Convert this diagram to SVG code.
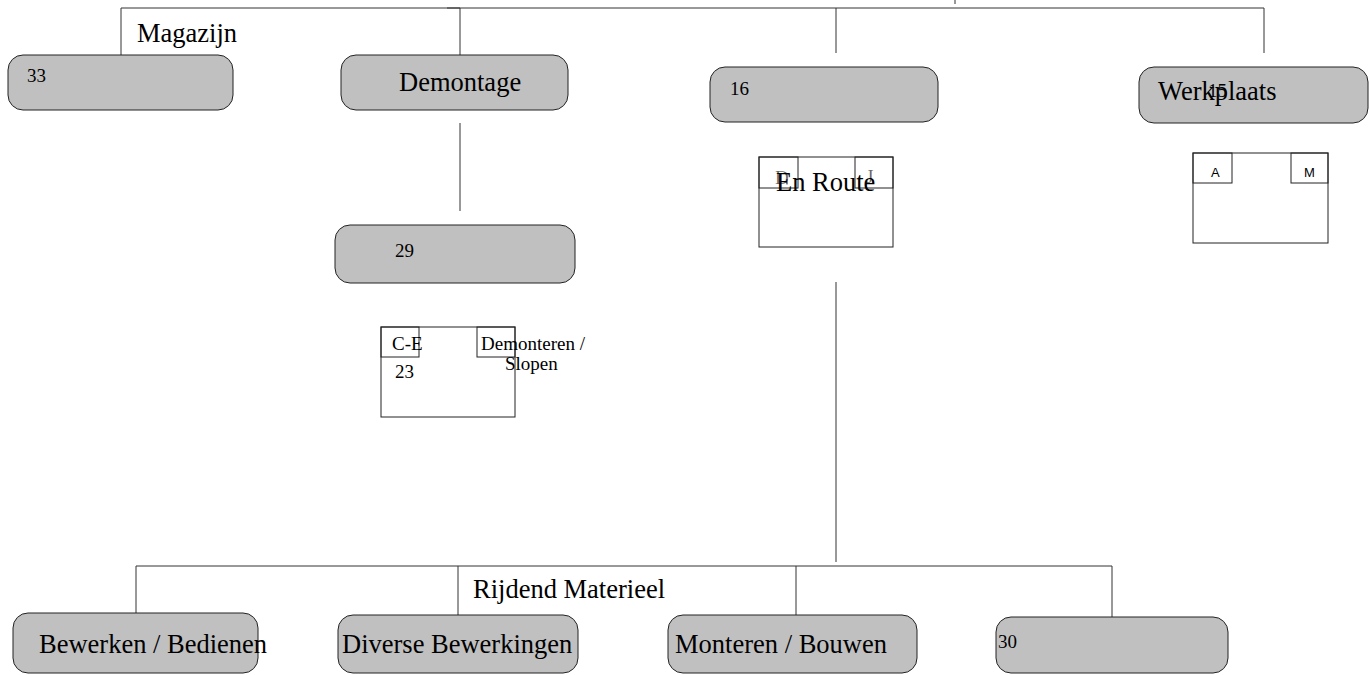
<svg xmlns="http://www.w3.org/2000/svg" width="1369" height="675" viewBox="0 0 1369 675">
<style>
.box{fill:#c0c0c0;stroke:#222;stroke-width:1}
.rect{fill:#fff;stroke:#222;stroke-width:1}
.tab{fill:none;stroke:#222;stroke-width:1}
.ln{stroke:#333;stroke-width:1;fill:none}
.big{font-family:"Liberation Serif",serif;font-size:26.5px;fill:#000}
.mid{font-family:"Liberation Serif",serif;font-size:19px;fill:#000}
.sm{font-family:"Liberation Sans",sans-serif;font-size:13px;fill:#000}
</style>
<rect width="1369" height="675" fill="#fff"/>
<g id="connectors">
<polyline class="ln" points="121,55 121,8 1264,8 1264,53"/>
<line class="ln" x1="460" y1="8" x2="460" y2="55"/>
<line class="ln" x1="447" y1="8" x2="460" y2="8" stroke-width="2"/>
<line class="ln" x1="836" y1="8" x2="836" y2="53"/>
<line class="ln" x1="955" y1="0" x2="955" y2="4"/>
<line class="ln" x1="460" y1="123" x2="460" y2="211"/>
<line class="ln" x1="836" y1="282" x2="836" y2="562"/>
<polyline class="ln" points="136,613 136,566 1112,566 1112,617"/>
<line class="ln" x1="458" y1="566" x2="458" y2="615"/>
<line class="ln" x1="796" y1="566" x2="796" y2="615"/>
</g>
<g id="magazijn">
<text class="big" x="137" y="42">Magazijn</text>
<rect class="box" x="8" y="55" width="225" height="55" rx="15"/>
<text class="mid" x="27" y="82">33</text>
</g>
<g id="demontage">
<rect class="box" x="341" y="55" width="227" height="55" rx="15"/>
<text class="big" x="399" y="91">Demontage</text>
</g>
<g id="node16">
<rect class="box" x="710" y="67" width="228" height="55" rx="15"/>
<text class="mid" x="730" y="95">16</text>
</g>
<g id="werkplaats">
<rect class="box" x="1139" y="67" width="229" height="56" rx="15"/>
<text class="mid" x="1208" y="97">15</text>
<text class="big" x="1158" y="100">Werkplaats</text>
</g>
<g id="node29">
<rect class="box" x="335" y="225" width="240" height="58" rx="15"/>
<text class="mid" x="395" y="257">29</text>
</g>
<g id="demonteren">
<rect class="rect" x="381" y="327" width="134" height="90"/>
<rect class="tab" x="381" y="327" width="38" height="30"/>
<rect class="tab" x="477" y="327" width="38" height="30"/>
<text class="mid" x="392" y="350">C-E</text>
<text class="mid" x="395" y="378">23</text>
<text class="mid" x="481" y="350">Demonteren /</text>
<text class="mid" x="505" y="370">Slopen</text>
</g>
<g id="enroute">
<rect class="rect" x="759" y="157" width="134" height="90"/>
<rect class="tab" x="759" y="157" width="39" height="31"/>
<rect class="tab" x="855" y="157" width="38" height="31"/>
<text class="mid" x="775" y="184" fill-opacity="0.6">D</text>
<text class="mid" x="866" y="183" fill-opacity="0.6">J</text>
<text class="big" x="776" y="191">En Route</text>
</g>
<g id="am">
<rect class="rect" x="1193" y="153" width="135" height="90"/>
<rect class="tab" x="1193" y="153" width="39" height="30"/>
<rect class="tab" x="1291" y="153" width="37" height="30"/>
<text class="sm" x="1211" y="177">A</text>
<text class="sm" x="1304" y="177">M</text>
</g>
<g id="rijdend">
<text class="big" x="473" y="598">Rijdend Materieel</text>
</g>
<g id="bewerken">
<rect class="box" x="13" y="613" width="245" height="60" rx="15"/>
<text class="big" x="39" y="653">Bewerken / Bedienen</text>
</g>
<g id="diverse">
<rect class="box" x="338" y="615" width="240" height="58" rx="15"/>
<text class="big" x="342" y="653">Diverse Bewerkingen</text>
</g>
<g id="monteren">
<rect class="box" x="668" y="615" width="249" height="58" rx="15"/>
<text class="big" x="675" y="653">Monteren / Bouwen</text>
</g>
<g id="node30">
<rect class="box" x="996" y="617" width="232" height="56" rx="15"/>
<text class="mid" x="998" y="648">30</text>
</g>
</svg>
